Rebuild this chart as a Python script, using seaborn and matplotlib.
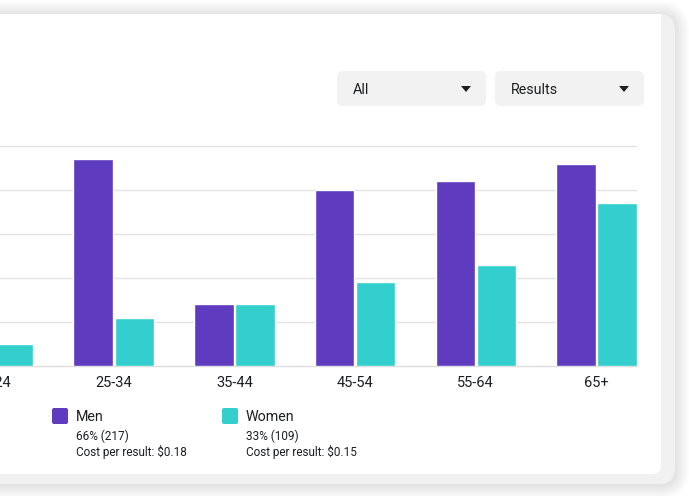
import pandas as pd
import matplotlib.pyplot as plt
import seaborn as sns
from matplotlib.patches import FancyBboxPatch, Polygon, Rectangle

# Results by age and gender (gridlines every 10)
age_groups = ['18-24', '25-34', '35-44', '45-54', '55-64', '65+']
men = [28, 47, 14, 40, 42, 46]
women = [5, 11, 14, 19, 23, 37]
genders = ['Men', 'Women']
gender_share = ['66% (217)', '33% (109)']
gender_cost = ['Cost per result: $0.18', 'Cost per result: $0.15']
dropdowns = ['All', 'Results']

purple = '#5E3BBF'
teal = '#33CECE'

df = pd.DataFrame({
    'age': age_groups * 2,
    'results': men + women,
    'gender': ['Men'] * len(men) + ['Women'] * len(women),
})

sns.set_theme(style='white')
plt.rcParams['font.family'] = ['Roboto', 'DejaVu Sans']

W, H = 689, 496
fig = plt.figure(figsize=(W / 100, H / 100), dpi=100)
fig.patch.set_facecolor('white')

# background layer in pixel coordinates: card, shadow, dropdowns, legend
bg = fig.add_axes([0, 0, 1, 1])
bg.set_xlim(0, W)
bg.set_ylim(H, 0)
bg.axis('off')

# soft shadow around the outer frame
ox0, oy0, ox1, oy1 = -40, 14, 675, 484
for k in range(14, 0, -1):
    bg.add_patch(FancyBboxPatch((ox0 - k, oy0 - k + 1), (ox1 - ox0) + 2 * k, (oy1 - oy0) + 2 * k,
                                boxstyle=f'round,pad=0,rounding_size={16 + k}',
                                fc='black', ec='none', alpha=0.006))
# gray outer frame, white card inside
bg.add_patch(FancyBboxPatch((ox0, oy0), ox1 - ox0, oy1 - oy0,
                            boxstyle='round,pad=0,rounding_size=16',
                            fc='#F1F1F1', ec='none'))
bg.add_patch(FancyBboxPatch((ox0, 14), 661 - ox0, 474 - 14,
                            boxstyle='round,pad=0,rounding_size=9',
                            fc='white', ec='none'))
bg.add_patch(Rectangle((640, 14), 21, 30, fc='white', ec='none'))

for i, label in enumerate(dropdowns):
    bx = 337 + i * 158
    bg.add_patch(FancyBboxPatch((bx, 71), 149, 35, boxstyle='round,pad=0,rounding_size=6',
                                fc='#F2F2F2', ec='none'))
    bg.text(bx + 16, 90, label, fontsize=10.3, color='#1C1E21', va='center', ha='left')
    tx = bx + 129
    bg.add_patch(Polygon([(tx - 5, 86), (tx + 5, 86), (tx, 92)], closed=True,
                         fc='#1C1E21', ec='none'))

for i, (g, c) in enumerate(zip(genders, [purple, teal])):
    lx = 52 + i * 170
    bg.add_patch(FancyBboxPatch((lx, 408), 16, 16, boxstyle='round,pad=0,rounding_size=2',
                                fc=c, ec='none'))
    bg.text(lx + 24, 417, g, fontsize=10.3, color='#1C1E21', va='center', ha='left')
    bg.text(lx + 24, 436, gender_share[i], fontsize=8.5, color='#1C1E21', va='center', ha='left')
    bg.text(lx + 24, 452, gender_cost[i], fontsize=8.5, color='#1C1E21', va='center', ha='left')

# bar chart; axes reach past the left edge so the cut 18-24 label still shows
px_per_unit = 4.4
px_per_group = 120.7
left_px, top_px, base_px, right_px = -80, 140, 366, 637
ax = fig.add_axes([left_px / W, (H - base_px) / H, (right_px - left_px) / W, (base_px - top_px) / H])
ax.patch.set_alpha(0)
sns.barplot(data=df, x='age', y='results', hue='gender', palette=[purple, teal],
            saturation=1, width=0.68, gap=0.04, legend=False, ax=ax, zorder=3)
ax.set_ylim(0, (base_px - top_px) / px_per_unit)
xmin = 0.058 + left_px / px_per_group
ax.set_xlim(xmin, xmin + (right_px - left_px) / px_per_group)
ax.set_yticks([10, 20, 30, 40, 50])
ax.yaxis.grid(True, color='#E4E4E4', linewidth=1)
ax.set_axisbelow(True)
ax.tick_params(axis='y', left=False, labelleft=False)
ax.tick_params(axis='x', length=0, pad=7, labelsize=10.5, labelcolor='#1C1E21')
ax.set_xlabel('')
ax.set_ylabel('')
for side in ['top', 'left', 'right']:
    ax.spines[side].set_visible(False)
ax.spines['bottom'].set_color('#DDDDDD')
ax.spines['bottom'].set_linewidth(1)

fig.savefig('out.png', dpi=100)
